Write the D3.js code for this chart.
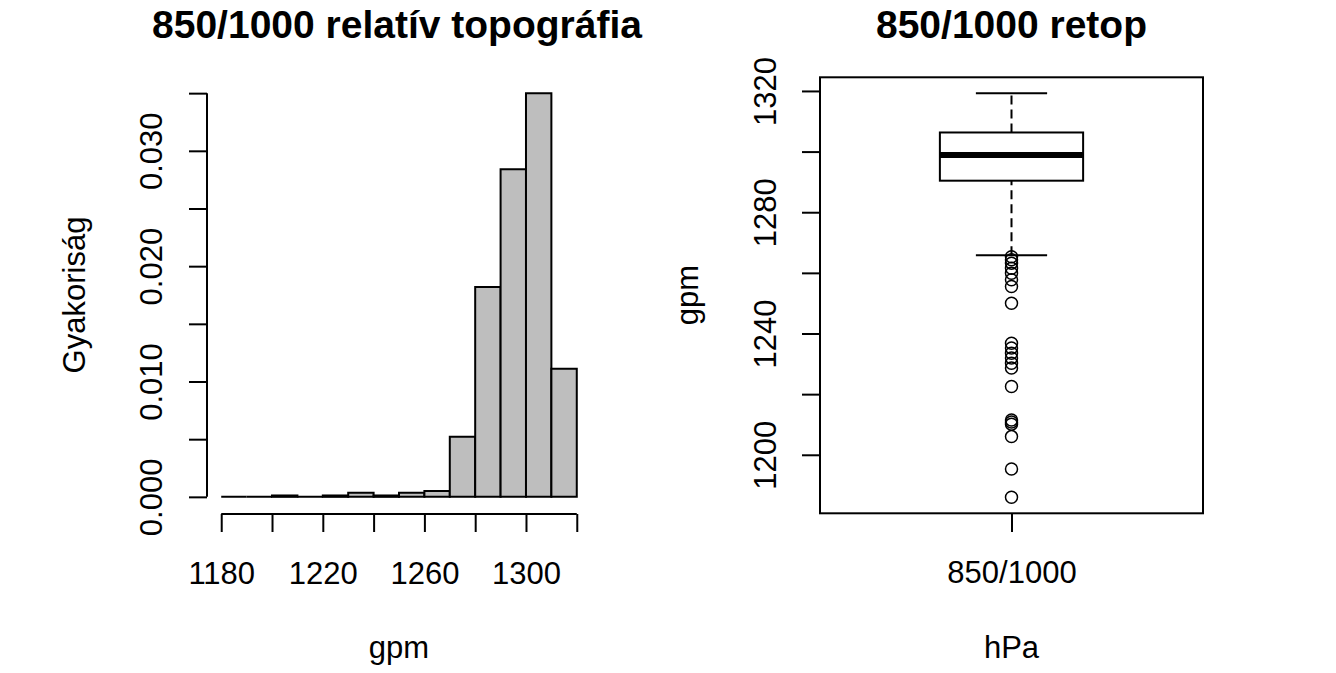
<!DOCTYPE html>
<html>
<head>
<meta charset="utf-8">
<script src="https://cdn.jsdelivr.net/npm/d3@7"></script>
<style>
  body { margin: 0; background: #fff; }
  text { font-family: "Liberation Sans", Arial, sans-serif; fill: #000; }
</style>
</head>
<body>
<div id="plot"></div>
<script>
// histogram data: left edge of each 10 gpm bin and its density
const binStarts = [1180,1190,1200,1210,1220,1230,1240,1250,1260,1270,1280,1290,1300,1310]
const densities = [0,0,0.00012,0,0.00012,0.00035,0.00012,0.00035,0.0005,0.0052,0.0182,0.0284,0.035,0.0111]
const binWidth = 10
const histXTicks = [1180,1200,1220,1240,1260,1280,1300,1320]
const histXLabels = [1180,1220,1260,1300]
const histYTicks = [0,0.005,0.010,0.015,0.020,0.025,0.030,0.035]
const histYLabels = [0,0.010,0.020,0.030]

// boxplot data
const boxStats = [1265.8, 1290.4, 1298.9, 1306.3, 1319.2] // low whisker, q1, median, q3, high whisker
const outliers = [1265.3,1264.3,1263.2,1261.5,1259.9,1257.7,1255.5,1250.0,1236.8,1235.2,1233.5,1231.9,1230.2,1228.6,1222.5,1211.5,1210.8,1210.1,1206.0,1195.3,1186.0]
const boxCategory = "850/1000"
const boxYTicks = [1200,1220,1240,1260,1280,1300,1320]
const boxYLabels = [1200,1240,1280,1320]

const W = 1336, H = 673
const fs = "31px", titleFs = "39px"

var svg = d3.select("#plot")
  .append("svg")
    .attr("width", W)
    .attr("height", H)
    .style("display", "block")

svg.append("rect").attr("width", W).attr("height", H).attr("fill", "#fff")

const lw = 2

// rotate y tick labels like R (parallel to the axis)
const rotateLabels = function(g, off) {
  g.selectAll(".tick text")
    .attr("x", 0)
    .attr("y", -off)
    .attr("dy", null)
    .attr("transform", "rotate(-90)")
    .attr("text-anchor", "middle")
    .style("font-size", fs)
}

// ---------- left panel: histogram ----------
const hx = d3.scaleLinear().domain([1174.4, 1325.6]).range([207, 591])
const hy = d3.scaleLinear().domain([-0.0014, 0.0364]).range([513, 77])

// paths so that empty bins still show as a line on the baseline
svg.selectAll(".bar")
  .data(binStarts)
  .enter()
  .append("path")
    .attr("class", "bar")
    .attr("d", (d, i) => {
      const x0 = hx(d), x1 = hx(d + binWidth), y0 = hy(0), y1 = hy(densities[i])
      return `M${x0},${y0}V${y1}H${x1}V${y0}Z`
    })
    .attr("fill", "#bebebe")
    .attr("stroke", "#000")
    .attr("stroke-width", lw)

// y axis
var hyAxis = svg.append("g")
  .attr("transform", "translate(207,0)")
  .call(d3.axisLeft(hy).tickValues(histYTicks).tickSize(18).tickSizeOuter(0)
    .tickFormat(d => histYLabels.some(v => Math.abs(v - d) < 1e-9) ? d3.format(".3f")(d) : ""))
hyAxis.select(".domain").remove()
hyAxis.selectAll("line").attr("stroke", "#000").attr("stroke-width", lw)
hyAxis.append("line")
  .attr("y1", hy(histYTicks[0])).attr("y2", hy(histYTicks[histYTicks.length - 1]))
  .attr("stroke", "#000").attr("stroke-width", lw)
rotateLabels(hyAxis, 45)

// x axis
var hxAxis = svg.append("g")
  .attr("transform", "translate(0,514)")
  .call(d3.axisBottom(hx).tickValues(histXTicks).tickSize(18).tickSizeOuter(0)
    .tickFormat(d => histXLabels.includes(d) ? d : ""))
hxAxis.select(".domain").remove()
hxAxis.selectAll("line").attr("stroke", "#000").attr("stroke-width", lw)
hxAxis.append("line")
  .attr("x1", hx(histXTicks[0])).attr("x2", hx(histXTicks[histXTicks.length - 1]))
  .attr("stroke", "#000").attr("stroke-width", lw)
hxAxis.selectAll(".tick text")
  .attr("y", 70).attr("dy", null)
  .style("font-size", fs)

svg.append("text")
  .attr("x", 397).attr("y", 38)
  .attr("text-anchor", "middle")
  .style("font-size", titleFs).style("font-weight", "bold")
  .text("850/1000 relatív topográfia")

svg.append("text")
  .attr("x", 399).attr("y", 658)
  .attr("text-anchor", "middle")
  .style("font-size", fs)
  .text("gpm")

svg.append("text")
  .attr("transform", "translate(85,295) rotate(-90)")
  .attr("text-anchor", "middle")
  .style("font-size", fs)
  .text("Gyakoriság")

// ---------- right panel: boxplot ----------
const bx = d3.scaleLinear().domain([0.5, 1.5]).range([820, 1203])
const by = d3.scaleLinear().domain([1180.7, 1324.5]).range([513.3, 77.3])
const boxHalf = 0.187, capHalf = 0.093

svg.append("rect")
  .attr("x", bx(0.5)).attr("y", by(1324.5))
  .attr("width", bx(1.5) - bx(0.5)).attr("height", by(1180.7) - by(1324.5))
  .attr("fill", "none").attr("stroke", "#000").attr("stroke-width", lw)

var box = svg.append("g")

// whiskers
box.selectAll(".whisker")
  .data([[boxStats[0], boxStats[1]], [boxStats[3], boxStats[4]]])
  .enter()
  .append("line")
    .attr("x1", bx(1)).attr("x2", bx(1))
    .attr("y1", d => by(d[0])).attr("y2", d => by(d[1]))
    .attr("stroke", "#000").attr("stroke-width", lw)
    .attr("stroke-dasharray", "9,5")

box.selectAll(".cap")
  .data([boxStats[0], boxStats[4]])
  .enter()
  .append("line")
    .attr("x1", bx(1 - capHalf)).attr("x2", bx(1 + capHalf))
    .attr("y1", d => by(d)).attr("y2", d => by(d))
    .attr("stroke", "#000").attr("stroke-width", lw)

box.append("rect")
  .attr("x", bx(1 - boxHalf)).attr("width", bx(1 + boxHalf) - bx(1 - boxHalf))
  .attr("y", by(boxStats[3])).attr("height", by(boxStats[1]) - by(boxStats[3]))
  .attr("fill", "#fff").attr("stroke", "#000").attr("stroke-width", lw)

box.append("line")
  .attr("x1", bx(1 - boxHalf)).attr("x2", bx(1 + boxHalf))
  .attr("y1", by(boxStats[2])).attr("y2", by(boxStats[2]))
  .attr("stroke", "#000").attr("stroke-width", 6)

box.selectAll(".out")
  .data(outliers)
  .enter()
  .append("circle")
    .attr("cx", bx(1)).attr("cy", d => by(d))
    .attr("r", 6)
    .attr("fill", "none").attr("stroke", "#000").attr("stroke-width", 1.5)

// y axis
var byAxis = svg.append("g")
  .attr("transform", "translate(820,0)")
  .call(d3.axisLeft(by).tickValues(boxYTicks).tickSize(18).tickSizeOuter(0)
    .tickFormat(d => boxYLabels.includes(d) ? d : ""))
byAxis.select(".domain").remove()
byAxis.selectAll("line").attr("stroke", "#000").attr("stroke-width", lw)
rotateLabels(byAxis, 44)

// x axis (single category)
var bxAxis = svg.append("g")
  .attr("transform", "translate(0,513)")
  .call(d3.axisBottom(bx).tickValues([1]).tickSize(19).tickSizeOuter(0)
    .tickFormat(() => boxCategory))
bxAxis.select(".domain").remove()
bxAxis.selectAll("line").attr("stroke", "#000").attr("stroke-width", lw)
bxAxis.selectAll(".tick text")
  .attr("y", 70).attr("dy", null)
  .style("font-size", fs)

svg.append("text")
  .attr("x", 1011.5).attr("y", 38)
  .attr("text-anchor", "middle")
  .style("font-size", titleFs).style("font-weight", "bold")
  .text("850/1000 retop")

svg.append("text")
  .attr("x", 1011.5).attr("y", 658)
  .attr("text-anchor", "middle")
  .style("font-size", fs)
  .text("hPa")

svg.append("text")
  .attr("transform", "translate(698,295) rotate(-90)")
  .attr("text-anchor", "middle")
  .style("font-size", fs)
  .text("gpm")
</script>
</body>
</html>
